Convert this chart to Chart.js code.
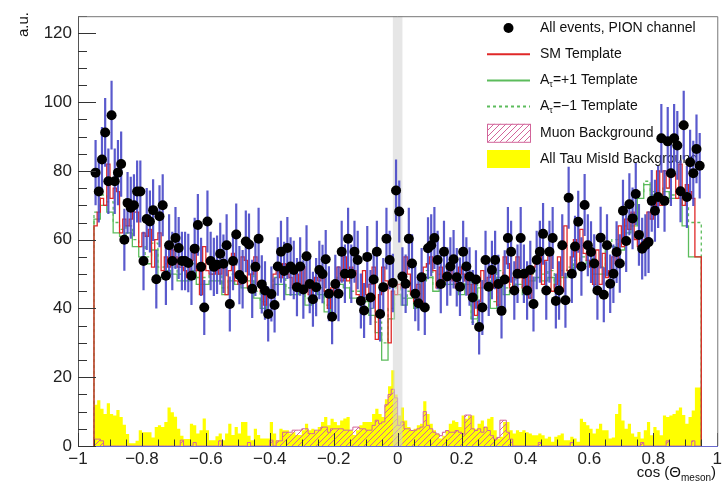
<!DOCTYPE html>
<html>
<head>
<meta charset="utf-8">
<script src="https://cdn.jsdelivr.net/npm/chart.js@4.4.1/dist/chart.umd.min.js"></script>
<style>
  html, body { margin: 0; padding: 0; background: #fff; }
</style>
</head>
<body>
<canvas id="chart" width="725" height="485"></canvas>
<script>
// histogram binning (cos theta)
const xLow = -0.95;
const fineWidth = 0.01;
const coarseWidth = 0.02;
const vetoBand = [-0.015, 0.015];

// all events, PION channel (0.01 bins)
const dataEvents = [
  79.5, 74, 83.3, 91.2, 77, 96.2, 77, 79.5, 82, 60,
  70.7, 69.3, 70, 74, 74, 53.8, 66, 65.3, 68.6, 48.5,
  66.8, 70, 49.5, 58.4, 53.8, 60.5, 57.6, 53.8, 53.8, 53.2,
  49.5, 57.4, 64.3, 52.1, 40.3, 65.3, 53.8, 52.1, 52.7, 55.9,
  53, 58.4, 41.3, 53.8, 61.5, 49.7, 48.5, 59.5, 58.6, 45.7,
  52.1, 60.3, 47, 45.2, 38.4, 44.2, 41, 52.2, 56.5, 50.9,
  57.6, 52.2, 51.2, 46.2, 52.2, 45.5, 55.2, 47.1, 42.7, 46.2,
  51.2, 50, 54.3, 44.3, 37.6, 47.1, 44.3, 56.5, 50.1, 60.3,
  50.1, 56.5, 54.1, 42.2, 39.4, 55, 43.2, 48.4, 56.5, 38.4,
  46.2, 60.3, 54.1, 47.4, 74.3, 68.2, 49.3, 47.2, 60.3, 53.1,
  44.3, 41.5, 49.1, 40.3, 57.5, 58.4, 60.5, 54.1, 47.1, 56.5,
  49.3, 52.2, 54.3, 49.1, 46.3, 56.5, 52.2, 49.3, 43.2, 48.4,
  34.6, 40.3, 54.1, 46.3, 51.2, 54.1, 47.1, 39.3, 48.4, 60.5,
  56.5, 45.2, 50.1, 60.5, 50.1, 45.2, 51.2, 41.3, 54.1, 56.5,
  61.7, 45.2, 56.5, 60.5, 42.2, 45.2, 58.4, 42.4, 72.2, 50.1,
  58, 65.2, 52.2, 70.1, 58.4, 56.4, 53.1, 45.2, 60.6, 44,
  58.4, 47.2, 50.1, 56.4, 53.1, 68.4, 59.6, 70.3, 66.2, 73.3,
  61.4, 57.4, 58.4, 59.3, 71.3, 68.4, 72.4, 89.5, 71.3, 88.6,
  79.3, 89.5, 87.4, 74.1, 93.3, 72.4, 82.5, 79.3, 86.4, 81.5
];

const dataErrors = [
  9.5, 9, 9.5, 10, 9.5, 10, 9.5, 9.5, 9.5, 9,
  9, 9, 9, 9, 9, 8.5, 9, 9, 9, 8.5,
  9, 9, 8.5, 9, 8.5, 9, 9, 8.5, 8.5, 8.5,
  8.5, 9, 9, 8.5, 8, 9, 8.5, 8.5, 8.5, 9,
  8.5, 9, 8, 8.5, 9, 8.5, 8.5, 9, 9, 8.5,
  8.5, 9, 8.5, 8.5, 8, 8, 8, 8.5, 9, 8.5,
  9, 8.5, 8.5, 8.5, 8.5, 8.5, 9, 8.5, 8, 8.5,
  8.5, 8.5, 8.5, 8, 8, 8.5, 8, 9, 8.5, 9,
  8.5, 9, 8.5, 8, 8, 9, 8, 8.5, 9, 8,
  8.5, 9, 8.5, 8.5, 9, 9, 8.5, 8.5, 9, 8.5,
  8, 8, 8.5, 8, 9, 9, 9, 8.5, 8.5, 9,
  8.5, 8.5, 8.5, 8.5, 8.5, 9, 8.5, 8.5, 8, 8.5,
  8, 8, 8.5, 8.5, 8.5, 8.5, 8.5, 8, 8.5, 9,
  9, 8.5, 8.5, 9, 8.5, 8.5, 8.5, 8, 8.5, 9,
  9, 8.5, 9, 9, 8, 8.5, 9, 8, 9, 8.5,
  9, 9, 8.5, 9, 9, 9, 8.5, 8.5, 9, 8,
  9, 8.5, 8.5, 9, 8.5, 9, 9, 9, 9, 9,
  9, 9, 9, 9, 9, 9, 9, 10, 9, 10,
  9.5, 10, 10, 9, 10, 9, 9.5, 9.5, 10, 9.5
];

// SM template (0.01 bins)
const smTemplate = [
  63, 64, 68, 72, 70, 82, 72, 75, 74, 62,
  66, 64, 66, 68, 68, 58, 62, 61, 63, 52,
  60, 62, 51, 55, 52, 57, 55, 52, 52, 51,
  49, 54, 58, 51, 44, 58, 51, 50, 50, 53,
  50, 54, 44, 51, 56, 48, 47, 55, 54, 46,
  50, 55, 47, 45, 41, 45, 43, 50, 52, 49,
  53, 50, 49, 46, 50, 45, 52, 46, 44, 46,
  49, 48, 51, 45, 40, 46, 44, 52, 48, 55,
  48, 52, 51, 44, 42, 51, 44, 47, 52, 31,
  44, 52, 48, 30, 45, 44, 47, 46, 55, 50,
  44, 42, 47, 41, 52, 53, 55, 51, 46, 52,
  48, 50, 51, 48, 46, 52, 50, 48, 44, 47,
  38, 42, 51, 46, 49, 51, 46, 41, 47, 55,
  53, 46, 49, 55, 49, 46, 50, 43, 52, 53,
  57, 47, 54, 56, 45, 47, 55, 45, 64, 51,
  55, 60, 52, 63, 56, 54, 52, 47, 57, 47,
  56, 49, 51, 55, 53, 64, 58, 66, 63, 68,
  60, 58, 59, 60, 68, 66, 70, 80, 70, 80,
  75, 80, 79, 72, 82, 70, 76, 74, 72, 55
];

// A_tau = +1 template (0.02 bins)
const plusTemplate = [
  60, 66, 70, 68, 62, 61, 62, 58, 55, 53,
  57, 49, 51, 50, 48, 48, 51, 47, 47, 48,
  48, 44, 48, 47, 46, 48, 43, 40, 43, 47,
  47, 44, 44, 45, 41, 45, 44, 39, 44, 47,
  46, 43, 43, 42, 38, 33, 25, 37, 44, 41,
  43, 40, 48, 49, 45, 48, 47, 47, 44, 47,
  37, 46, 46, 40, 49, 44, 45, 47, 44, 48,
  49, 48, 49, 46, 49, 50, 52, 53, 54, 50,
  50, 58, 58, 57, 62, 64, 72, 76, 73, 72,
  74, 72, 72, 64, 55
];

// A_tau = -1 template (0.02 bins)
const minusTemplate = [
  62, 68, 73, 71, 65, 63, 64, 60, 58, 55,
  59, 52, 53, 52, 50, 50, 53, 49, 49, 50,
  50, 46, 50, 49, 48, 50, 45, 42, 45, 49,
  49, 46, 46, 47, 43, 47, 46, 41, 46, 49,
  48, 45, 45, 44, 40, 36, 30, 40, 46, 43,
  45, 42, 50, 51, 47, 50, 49, 49, 46, 49,
  36, 48, 48, 42, 51, 46, 47, 49, 46, 50,
  51, 50, 51, 48, 51, 52, 54, 55, 56, 52,
  52, 59, 60, 58, 64, 66, 74, 77, 74, 73,
  75, 73, 74, 70, 65
];

// muon background (0.01 bins)
const muonBackground = [
  0, 2, 2, 1.5, 0, 0, 0, 0, 0, 0,
  0, 0, 0, 0, 0, 0, 0, 0, 0, 0,
  0, 0, 0, 0, 0, 0, 0, 0, 1.7, 0,
  0, 0, 1, 0, 0, 0, 0, 0, 0, 0,
  1.5, 0, 0, 0, 0, 0, 0, 0, 0, 1,
  0, 0, 0, 0, 0, 0, 1.7, 0, 1.5, 1.5,
  4, 4, 4, 4.6, 4.6, 4.6, 5, 5, 3.6, 3.6,
  4.6, 4.6, 5.5, 5.5, 4, 5, 5, 5, 5, 4.6,
  4.6, 4.6, 5.5, 5.5, 5, 5, 4.6, 4.6, 6, 7.5,
  6.5, 7, 12, 15, 16.5, 14, 6, 7, 5, 5,
  4.5, 4.6, 5, 5.5, 10, 6, 5, 4, 3.5, 3,
  4, 4.5, 4, 4, 4.5, 4, 3.5, 9, 9, 5,
  4.5, 5, 4, 5.5, 4.5, 3, 2, 2.5, 7.5, 7.5,
  4, 2, 0, 0, 0, 0, 0, 0, 0, 0,
  1, 0, 0, 0, 0, 0, 0, 0, 0, 0,
  1, 0, 0, 0, 0, 0, 0, 0, 0, 0,
  0, 0, 0, 0, 0, 0, 0, 0, 0, 0,
  0, 0, 1, 0, 0, 0, 0, 0, 0, 0,
  1.5, 0, 0, 0, 0, 0, 0, 0, 1.5, 0
];

// all tau mis-id background (0.01 bins)
const tauMisId = [
  11.2, 12, 13.3, 10.8, 9.3, 12.4, 9.3, 8.9, 10.5, 8.4,
  6.2, 3.5, 0.8, 0.8, 1.5, 4.6, 4, 4, 4, 2.5,
  5.5, 6, 5.5, 7, 11.2, 9.8, 8.5, 5, 3, 2,
  2, 6.5, 6, 3.6, 4.6, 8, 4.6, 1.7, 1.7, 2.8,
  3.6, 1.7, 3.6, 6.5, 3.2, 5.5, 3.6, 7, 7, 3,
  1.7, 5, 3.2, 2.2, 2.2, 2.2, 7, 3.6, 1.7, 5,
  4.6, 4.6, 3.6, 4, 3.2, 3.2, 4.6, 6.5, 4.6, 5,
  4.6, 5.5, 7, 8.4, 6, 7.9, 7, 6, 7.4, 8,
  8.4, 4.6, 3.2, 4.6, 6, 7, 7, 7, 9.3, 10.8,
  9.3, 8.4, 13.6, 17.4, 22, 15, 8.9, 11.2, 7.4, 5.5,
  4.6, 5, 6, 6.5, 13, 9.3, 6.5, 4.6, 3.6, 2.2,
  3, 4.6, 6.5, 7.4, 7, 5.5, 8.9, 7.9, 8.9, 8.9,
  5, 6.5, 7.4, 5.5, 7.9, 8.4, 4.6, 2.2, 2.7, 7,
  7, 4.6, 3.6, 4.6, 4.1, 4.6, 4, 3.6, 3.1, 3.1,
  3.6, 3.1, 2.2, 2.7, 1.2, 2.7, 3.1, 3.6, 1.7, 1.7,
  2.7, 2.2, 1.2, 7.9, 7, 6, 5, 3.6, 5, 6.5,
  4.6, 4.6, 2.2, 2.5, 9.3, 12.2, 7.4, 5, 6.5, 3.6,
  2.7, 4.1, 2.2, 4.6, 7, 3.1, 5.5, 4.6, 3.1, 8.9,
  8.4, 8.9, 9.3, 10.3, 11.2, 9, 6.5, 8.4, 10.3, 17
];

const fontFamily = '"Liberation Sans", Arial, Helvetica, sans-serif';

// Turns bin contents into step-histogram points (closed to zero at both ends)
function stepPoints(values, width){
  const pts = [{x: xLow, y: 0}];
  values.forEach((v, i) => pts.push({x: xLow + i * width, y: v}));
  const xEnd = xLow + values.length * width;
  pts.push({x: xEnd, y: values[values.length - 1]});
  pts.push({x: xEnd, y: 0});
  return pts;
}

// pink diagonal hatch like ROOT fill style 3004
function hatchPattern(color){
  const c = document.createElement('canvas');
  c.width = 6; c.height = 6;
  const g = c.getContext('2d');
  g.strokeStyle = color;
  g.lineWidth = 1;
  g.beginPath();
  g.moveTo(0, 6); g.lineTo(6, 0);
  g.moveTo(-1, 1); g.lineTo(1, -1);
  g.moveTo(5, 7); g.lineTo(7, 5);
  g.stroke();
  return g.createPattern(c, 'repeat');
}

const pink = '#d2649a';
const red = '#e02828';
const green = '#5cbc5c';
const barBlue = 'rgba(72,72,200,0.9)';

const histoBase = {
  type: 'line',
  stepped: 'after',
  pointRadius: 0,
  pointHoverRadius: 0,
  tension: 0
};

const legendItems = [
  {kind: 'dot', text: 'All events, PION channel'},
  {kind: 'line', color: red, text: 'SM Template'},
  {kind: 'line', color: green, text: '=+1 Template', sub: true},
  {kind: 'dash', color: green, text: '=\u22121 Template', sub: true},
  {kind: 'hatch', text: 'Muon Background'},
  {kind: 'box', text: 'All Tau MisId Background'}
];

function drawLegend(ctx){
  const sx0 = 487, sx1 = 530, tx = 540;
  const y0 = 28, dy = 26.2;
  ctx.save();
  ctx.textBaseline = 'middle';
  legendItems.forEach((it, i) => {
    const y = y0 + i * dy;
    if (it.kind === 'dot'){
      ctx.fillStyle = '#000';
      ctx.beginPath(); ctx.arc((sx0 + sx1) / 2, y, 5, 0, Math.PI * 2); ctx.fill();
    } else if (it.kind === 'line' || it.kind === 'dash'){
      ctx.strokeStyle = it.color; ctx.lineWidth = 2;
      ctx.setLineDash(it.kind === 'dash' ? [3, 3] : []);
      ctx.beginPath(); ctx.moveTo(sx0, y); ctx.lineTo(sx1, y); ctx.stroke();
      ctx.setLineDash([]);
    } else if (it.kind === 'hatch'){
      ctx.fillStyle = hatchPattern(pink);
      ctx.fillRect(sx0, y - 9, sx1 - sx0, 18);
      ctx.strokeStyle = pink; ctx.lineWidth = 1;
      ctx.strokeRect(sx0 + 0.5, y - 9 + 0.5, sx1 - sx0, 18);
    } else if (it.kind === 'box'){
      ctx.fillStyle = '#ffff00';
      ctx.fillRect(sx0, y - 9, sx1 - sx0, 18);
    }
    ctx.fillStyle = '#111';
    ctx.font = '14px ' + fontFamily;
    let x = tx;
    if (it.sub){
      ctx.fillText('A', x, y);
      x += ctx.measureText('A').width;
      ctx.font = '9px ' + fontFamily;
      ctx.fillText('\u03c4', x, y + 4);
      x += ctx.measureText('\u03c4').width;
      ctx.font = '14px ' + fontFamily;
    }
    ctx.fillText(it.text, x, y);
  });
  ctx.restore();
}

// grey veto band, legend and error bars go between templates and data points
const dataLayerPlugin = {
  id: 'dataLayer',
  beforeDatasetDraw(chart, args){
    if (args.meta.order !== 0) return;
    const {ctx, chartArea: a, scales: {x, y}} = chart;
    ctx.save();
    ctx.fillStyle = 'rgba(210,210,210,0.55)';
    const bx0 = x.getPixelForValue(vetoBand[0]);
    const bx1 = x.getPixelForValue(vetoBand[1]);
    ctx.fillRect(bx0, a.top, bx1 - bx0, a.bottom - a.top);
    ctx.restore();

    drawLegend(ctx);

    ctx.save();
    ctx.strokeStyle = barBlue;
    ctx.lineWidth = 2.2;
    ctx.beginPath();
    dataEvents.forEach((v, i) => {
      const px = x.getPixelForValue(xLow + (i + 0.5) * fineWidth);
      ctx.moveTo(px, y.getPixelForValue(v + dataErrors[i]));
      ctx.lineTo(px, y.getPixelForValue(Math.max(0, v - dataErrors[i])));
    });
    ctx.stroke();
    ctx.restore();
  }
};

// ROOT-like inward ticks, frame and axis titles
const framePlugin = {
  id: 'frame',
  afterDatasetsDraw(chart){
    const {ctx, chartArea: a, scales: {x, y}} = chart;
    ctx.save();
    ctx.strokeStyle = '#333';
    ctx.lineWidth = 1;
    ctx.beginPath();
    for (let v = 0; v <= 125; v += 5){
      const py = Math.round(y.getPixelForValue(v)) + 0.5;
      const len = v % 20 === 0 ? 18 : 9;
      ctx.moveTo(a.left, py); ctx.lineTo(a.left + len, py);
    }
    for (let i = -20; i <= 20; i++){
      const px = Math.round(x.getPixelForValue(i * 0.05)) + 0.5;
      const len = i % 4 === 0 ? 13 : 6.5;
      ctx.moveTo(px, a.bottom); ctx.lineTo(px, a.bottom - len);
    }
    ctx.stroke();
    ctx.strokeStyle = '#777';
    ctx.beginPath();
    ctx.moveTo(a.left, a.top + 0.5); ctx.lineTo(a.right + 0.5, a.top + 0.5);
    ctx.lineTo(a.right + 0.5, a.bottom);
    ctx.stroke();
    ctx.restore();
  },
  afterDraw(chart){
    const {ctx} = chart;
    ctx.save();
    ctx.fillStyle = '#111';
    ctx.textBaseline = 'alphabetic';
    // x title: cos (Θ_meson)
    const mainFont = '15px ' + fontFamily;
    const subFont = '10px ' + fontFamily;
    ctx.font = mainFont;
    const w1 = ctx.measureText('cos (\u0398').width;
    const w3 = ctx.measureText(')').width;
    ctx.font = subFont;
    const w2 = ctx.measureText('meson').width;
    let xs = 716 - (w1 + w2 + w3);
    ctx.font = mainFont; ctx.fillText('cos (\u0398', xs, 477);
    ctx.font = subFont; ctx.fillText('meson', xs + w1, 481);
    ctx.font = mainFont; ctx.fillText(')', xs + w1 + w2, 477);
    // y title
    ctx.translate(28, 12);
    ctx.rotate(-Math.PI / 2);
    ctx.textAlign = 'right';
    ctx.font = '15px ' + fontFamily;
    ctx.fillText('a.u.', 0, 0);
    ctx.restore();
  }
};

function fmtTick(v){
  const r = Math.round(v * 10) / 10;
  if (r === 0) return '0';
  return (r < 0 ? '\u2212' : '') + Math.abs(r);
}

const ctx = document.getElementById('chart');
new Chart(ctx, {
  type: 'line',
  data: {
    datasets: [
      Object.assign({}, histoBase, {
        label: 'All Tau MisId Background', order: 5,
        data: stepPoints(tauMisId, fineWidth),
        borderColor: 'rgba(0,0,0,0)', borderWidth: 0,
        backgroundColor: '#ffff00', fill: 'origin'
      }),
      Object.assign({}, histoBase, {
        label: 'Muon Background', order: 4,
        data: stepPoints(muonBackground, fineWidth),
        borderColor: pink, borderWidth: 1,
        backgroundColor: hatchPattern(pink), fill: 'origin'
      }),
      Object.assign({}, histoBase, {
        label: 'A=-1 Template', order: 3,
        data: stepPoints(minusTemplate, coarseWidth),
        borderColor: green, borderWidth: 1.3, borderDash: [3, 3], fill: false
      }),
      Object.assign({}, histoBase, {
        label: 'A=+1 Template', order: 2,
        data: stepPoints(plusTemplate, coarseWidth),
        borderColor: green, borderWidth: 1.3, fill: false
      }),
      Object.assign({}, histoBase, {
        label: 'SM Template', order: 1,
        data: stepPoints(smTemplate, fineWidth),
        borderColor: red, borderWidth: 1.3, fill: false
      }),
      {
        label: 'All events, PION channel', order: 0,
        data: dataEvents.map((v, i) => ({x: xLow + (i + 0.5) * fineWidth, y: v})),
        showLine: false,
        pointRadius: 5, pointHoverRadius: 5,
        pointBackgroundColor: '#000', pointBorderWidth: 0, pointBorderColor: '#000'
      }
    ]
  },
  options: {
    responsive: false,
    devicePixelRatio: 1,
    animation: false,
    events: [],
    layout: {padding: {top: 8, right: 7, left: 0, bottom: 0}},
    plugins: {legend: {display: false}, tooltip: {enabled: false}},
    scales: {
      x: {
        type: 'linear', min: -1, max: 1,
        grid: {display: false, drawTicks: false},
        border: {display: true, color: '#6a6ad0', width: 1},
        ticks: {
          stepSize: 0.2, includeBounds: false, maxRotation: 0, autoSkip: false,
          padding: 3, color: '#222', font: {family: fontFamily, size: 17},
          callback: fmtTick
        },
        afterFit(scale){ scale.height = 39; }
      },
      y: {
        min: 0, max: 125,
        grid: {display: false, drawTicks: false},
        border: {display: true, color: '#555', width: 1},
        ticks: {
          stepSize: 20, includeBounds: false, padding: 6,
          color: '#222', font: {family: fontFamily, size: 17}
        },
        afterFit(scale){ scale.width = 78; }
      }
    }
  },
  plugins: [dataLayerPlugin, framePlugin]
});
</script>
</body>
</html>
